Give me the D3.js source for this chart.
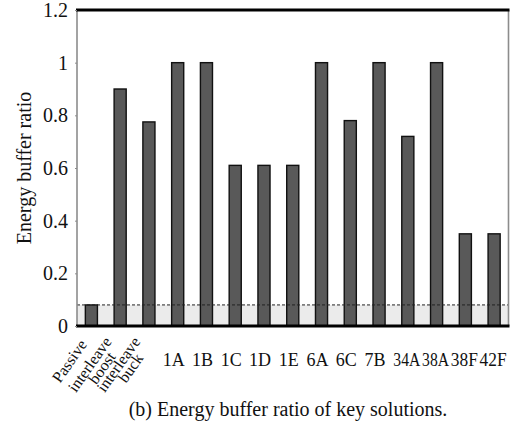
<!DOCTYPE html>
<html>
<head>
<meta charset="utf-8">
<script src="https://cdn.jsdelivr.net/npm/d3@7"></script>
<style>
  body { margin: 0; background: #fff; }
  svg { display: block; font-family: "Liberation Serif", "Times New Roman", serif; }
</style>
</head>
<body>
<svg id="chart" width="526" height="425"></svg>
<script>
// data
const categories = ["Passive", "interleave\nboost", "interleave\nbuck", "1A", "1B", "1C", "1D", "1E",
                    "6A", "6C", "7B", "34A", "38A", "38F", "42F"];
const bufferRatio = [0.08, 0.9, 0.775, 1.0, 1.0, 0.61, 0.61, 0.61, 1.0, 0.78, 1.0, 0.72, 1.0, 0.35, 0.35];
const slanted = ["Passive", "interleave\nboost", "interleave\nbuck"];
const yTicks = [0, 0.2, 0.4, 0.6, 0.8, 1, 1.2];
const threshold = 0.08;
const yTitle = "Energy buffer ratio";
const caption = "(b) Energy buffer ratio of key solutions.";

const svg = d3.select("#chart");
const plotL = 77, plotR = 508.5, plotT = 10, plotB = 326;

const x = d3.scaleBand().domain(categories).range([plotL, plotR]).paddingInner(0.58).paddingOuter(0.29);
const y = d3.scaleLinear().domain([0, 1.2]).range([plotB, plotT]);

// shaded band under the threshold
svg.append("rect")
  .attr("x", plotL).attr("y", y(threshold))
  .attr("width", plotR - plotL).attr("height", y(0) - y(threshold))
  .attr("fill", "#ebebeb");

// bars
svg.append("g").selectAll("rect")
  .data(categories)
  .join("rect")
  .attr("x", d => x(d))
  .attr("y", (d, i) => y(bufferRatio[i]))
  .attr("width", x.bandwidth())
  .attr("height", (d, i) => y(0) - y(bufferRatio[i]))
  .attr("fill", "#595959")
  .attr("stroke", "#111")
  .attr("stroke-width", 1.4);

// dashed threshold line
svg.append("line")
  .attr("x1", plotL).attr("x2", plotR)
  .attr("y1", y(threshold)).attr("y2", y(threshold))
  .attr("stroke", "#222").attr("stroke-width", 1)
  .attr("stroke-dasharray", "3,2");

// frame
svg.append("line").attr("x1", plotL).attr("x2", plotL).attr("y1", plotT).attr("y2", plotB)
  .attr("stroke", "#8c8c8c").attr("stroke-width", 1.6);
svg.append("line").attr("x1", plotR).attr("x2", plotR).attr("y1", plotT).attr("y2", plotB)
  .attr("stroke", "#8c8c8c").attr("stroke-width", 1.6);
svg.append("line").attr("x1", plotL - 1).attr("x2", plotR + 1).attr("y1", plotT).attr("y2", plotT)
  .attr("stroke", "#000").attr("stroke-width", 3);
svg.append("line").attr("x1", plotL - 1).attr("x2", plotR + 1).attr("y1", plotB).attr("y2", plotB)
  .attr("stroke", "#000").attr("stroke-width", 3);

// y axis
const yAxis = svg.append("g")
  .attr("transform", `translate(${plotL},0)`)
  .call(d3.axisLeft(y).tickValues(yTicks).tickSize(2).tickPadding(7)
    .tickFormat(d => String(+d.toFixed(1))));
yAxis.select(".domain").remove();
yAxis.selectAll(".tick line").attr("stroke", "#8c8c8c");
yAxis.selectAll(".tick text")
  .attr("font-size", 20).attr("fill", "#111")
  .attr("font-family", "Liberation Serif, serif");

svg.append("text")
  .attr("transform", `translate(31,${(plotT + plotB) / 2}) rotate(-90)`)
  .attr("text-anchor", "middle")
  .attr("font-size", 20).attr("fill", "#111")
  .text(yTitle);

// x labels
const xl = svg.append("g").attr("fill", "#111");
categories.forEach(c => {
  const cx = x(c) + x.bandwidth() / 2;
  if (slanted.includes(c)) {
    const lines = c.split("\n");
    const g = xl.append("g").attr("transform", `translate(${cx - 3},345) rotate(-55)`);
    const first = g.append("text")
      .attr("font-size", 16)
      .attr("text-anchor", "end")
      .attr("y", lines.length === 1 ? -1 : -6)
      .text(lines[0]);
    if (lines.length > 1) {
      const second = g.append("text")
        .attr("font-size", 16)
        .attr("text-anchor", "end")
        .attr("y", 6)
        .text(lines[1]);
      const w1 = first.node().getComputedTextLength();
      const w2 = second.node().getComputedTextLength();
      second.attr("x", -(w1 - w2) / 2 + 4);
    }
  } else {
    const t = xl.append("text")
      .attr("x", cx - (c.length > 2 ? 1 : 4)).attr("y", 366)
      .attr("text-anchor", "middle")
      .attr("font-size", 18)
      .text(c);
    if (t.node().getComputedTextLength() > 27) {
      t.attr("textLength", 27).attr("lengthAdjust", "spacingAndGlyphs");
    }
  }
});

// caption
svg.append("text")
  .attr("x", 288).attr("y", 416)
  .attr("text-anchor", "middle")
  .attr("font-size", 20).attr("fill", "#111")
  .text(caption);
</script>
</body>
</html>
